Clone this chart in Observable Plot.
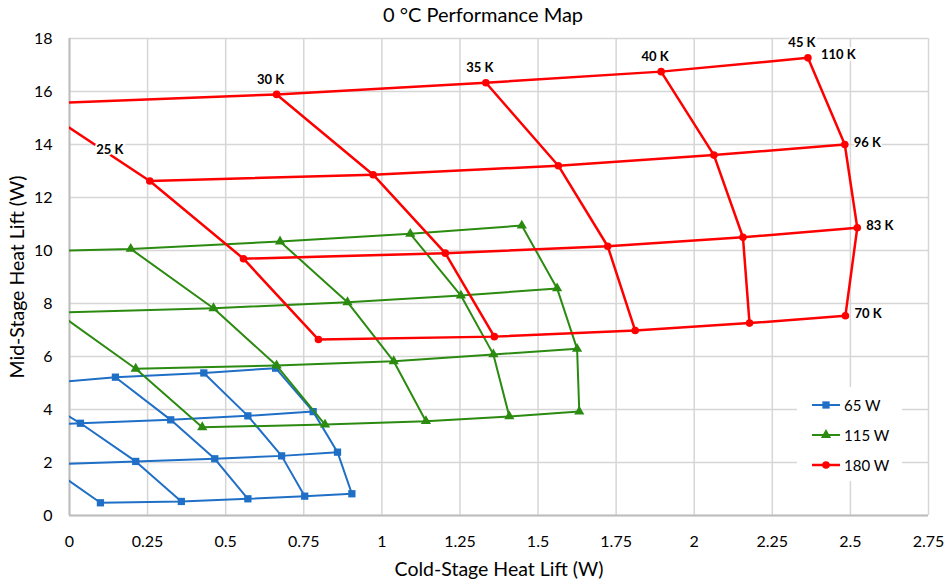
<!DOCTYPE html>
<html>
<head>
<meta charset="utf-8">
<script src="https://cdn.jsdelivr.net/npm/d3@7"></script>
<script src="https://cdn.jsdelivr.net/npm/@observablehq/plot@0.6"></script>
<style>
  body { margin: 0; background: #fff; }
  #wrap { position: relative; width: 951px; height: 583px; font-family: Lato, "Open Sans", sans-serif; color: #000; }
  #title { position: absolute; top: 0; left: 0; width: 966px; text-align: center; font-size: 20px; line-height: 28px; z-index: 2; }
  #chart { position: absolute; top: 20px; left: 0; }
  #legend { position: absolute; left: 797px; top: 387px; width: 105px; height: 94px; background: #fff; }
  .item { position: absolute; left: 15px; height: 20px; display: flex; align-items: center; font-size: 15px; }
  .item svg { margin-right: 2px; }
</style>
</head>
<body>
<div id="wrap">
  <div id="title">0 °C Performance Map</div>
  <div id="chart"></div>
  <div id="legend"></div>
</div>
<script>
// ---- data ----
const coldTemps = ["25 K", "30 K", "35 K", "40 K", "45 K"];   // columns
const midTemps = ["70 K", "83 K", "96 K", "110 K"];           // rows
const seriesNames = ["65 W", "115 W", "180 W"];

// 65 W: cold-stage heat lift (x) and mid-stage heat lift (y)
const x65 = [
  [0.099, 0.358, 0.571, 0.753, 0.904],
  [-0.076, 0.212, 0.465, 0.679, 0.858],
  [-0.276, 0.035, 0.324, 0.571, 0.780],
  [null, -0.165, 0.147, 0.430, 0.660]
];
const y65 = [
  [0.48, 0.53, 0.63, 0.73, 0.82],
  [1.92, 2.04, 2.14, 2.25, 2.39],
  [3.34, 3.48, 3.61, 3.76, 3.92],
  [null, 4.90, 5.22, 5.38, 5.56]
];

// 115 W
const x115 = [
  [0.425, 0.818, 1.141, 1.408, 1.632],
  [0.212, 0.663, 1.038, 1.357, 1.625],
  [-0.04, 0.461, 0.890, 1.253, 1.561],
  [-0.30, 0.196, 0.674, 1.091, 1.448]
];
const y115 = [
  [3.33, 3.43, 3.56, 3.74, 3.92],
  [5.54, 5.66, 5.82, 6.08, 6.29],
  [7.66, 7.82, 8.05, 8.30, 8.57],
  [9.90, 10.06, 10.34, 10.63, 10.94]
];

// 180 W
const x180 = [
  [0.797, 1.360, 1.811, 2.177, 2.484],
  [0.557, 1.203, 1.723, 2.156, 2.522],
  [0.257, 0.972, 1.565, 2.063, 2.482],
  [-0.115, 0.663, 1.333, 1.894, 2.364]
];
const y180 = [
  [6.64, 6.75, 6.98, 7.26, 7.54],
  [9.69, 9.90, 10.16, 10.50, 10.86],
  [12.62, 12.86, 13.20, 13.60, 14.00],
  [15.53, 15.89, 16.33, 16.75, 17.27]
];

const xTicks = [0, 0.25, 0.5, 0.75, 1, 1.25, 1.5, 1.75, 2, 2.25, 2.5, 2.75];
const yTicks = [0, 2, 4, 6, 8, 10, 12, 14, 16, 18];
const xTitle = "Cold-Stage Heat Lift (W)";
const yTitle = "Mid-Stage Heat Lift (W)";

// ---- styles ----
const colors = ["#1f6fc6", "#2b8a10", "#ff0000"];
const symbols = ["square", "triangle", "circle"];
const radii = [4.1, 3.8, 3.8];
const widths = [2, 2, 2.5];
const FONT = 'Lato, "Open Sans", sans-serif';

// ---- build rows ----
const grids = [[x65, y65], [x115, y115], [x180, y180]];
const points = [];
grids.forEach(([xs, ys], s) => {
  xs.forEach((row, m) => {
    row.forEach((x, c) => {
      if (x != null) points.push({s, series: seriesNames[s], m, mid: midTemps[m], c, cold: coldTemps[c], x, y: ys[m][c]});
    });
  });
});

const seriesMarks = [];
seriesNames.forEach((name, s) => {
  const pts = points.filter(d => d.s === s);
  seriesMarks.push(
    Plot.line(pts, {x: "x", y: "y", z: d => d.mid, stroke: colors[s], strokeWidth: widths[s], clip: true}),
    Plot.line(pts, {x: "x", y: "y", z: d => d.cold, stroke: colors[s], strokeWidth: widths[s], clip: true}),
    Plot.dot(pts, {x: "x", y: "y", symbol: () => symbols[s], r: radii[s], fill: colors[s], stroke: "none", clip: true})
  );
});

const red = points.filter(d => d.s === 2);
const labelStyle = {x: "x", y: "y", fill: "#000", fontSize: 13, fontWeight: "bold", stroke: "#fff", strokeWidth: 4};

const chart = Plot.plot({
  width: 951,
  height: 563,
  marginTop: 18,
  marginBottom: 68,
  marginLeft: 69,
  marginRight: 23,
  style: {fontFamily: FONT, fontSize: "16px", color: "#000", background: "transparent"},
  x: {domain: [0, 2.75], ticks: xTicks, tickFormat: d => `${d}`, tickSize: 0, tickPadding: 20, label: null},
  y: {domain: [0, 18], ticks: yTicks, tickFormat: d => `${d}`, tickSize: 0, tickPadding: 17, label: null},
  symbol: {type: "identity"},
  marks: [
    Plot.ruleX(xTicks, {stroke: "#d6d6d6", strokeWidth: 1.5}),
    Plot.ruleY(yTicks, {stroke: "#d6d6d6", strokeWidth: 1.5}),
    Plot.ruleX([0], {stroke: "#bdbdbd", strokeWidth: 2}),
    Plot.ruleY([0], {stroke: "#bdbdbd", strokeWidth: 2}),
    ...seriesMarks,
    Plot.text(red.filter(d => d.mid === "110 K" && d.cold !== "25 K"), {...labelStyle, text: "cold", dx: -6, dy: -15}),
    Plot.text(red.filter(d => d.mid === "96 K" && d.cold === "25 K"), {...labelStyle, text: "cold", dx: -40, dy: -31}),
    Plot.text(red.filter(d => d.cold === "45 K" && d.mid !== "110 K"), {...labelStyle, text: "mid", textAnchor: "start", dx: 9, dy: -2}),
    Plot.text(red.filter(d => d.cold === "45 K" && d.mid === "110 K"), {...labelStyle, text: "mid", textAnchor: "start", dx: 13, dy: -3}),
    Plot.text([xTitle], {frameAnchor: "bottom", textAnchor: "middle", lineAnchor: "middle", dy: 54, fontSize: 19.5, fill: "#000"}),
    Plot.text([yTitle], {frameAnchor: "left", textAnchor: "middle", lineAnchor: "middle", rotate: -90, dx: -52, fontSize: 19.5, fill: "#000"})
  ]
});
document.getElementById("chart").appendChild(chart);

// ---- legend ----
const legend = document.getElementById("legend");
seriesNames.forEach((name, s) => {
  const item = document.createElement("div");
  item.className = "item";
  item.style.top = (8 + s * 30) + "px";
  const sym = d3.symbol(s === 0 ? d3.symbolSquare : s === 1 ? d3.symbolTriangle : d3.symbolCircle, Math.PI * radii[s] * radii[s])();
  item.innerHTML = `<svg width="30" height="14"><line x1="0" x2="28" y1="7" y2="7" stroke="${colors[s]}" stroke-width="${widths[s]}"/><path d="${sym}" transform="translate(14,7)" fill="${colors[s]}"/></svg><span>${name}</span>`;
  legend.appendChild(item);
});
</script>
</body>
</html>
